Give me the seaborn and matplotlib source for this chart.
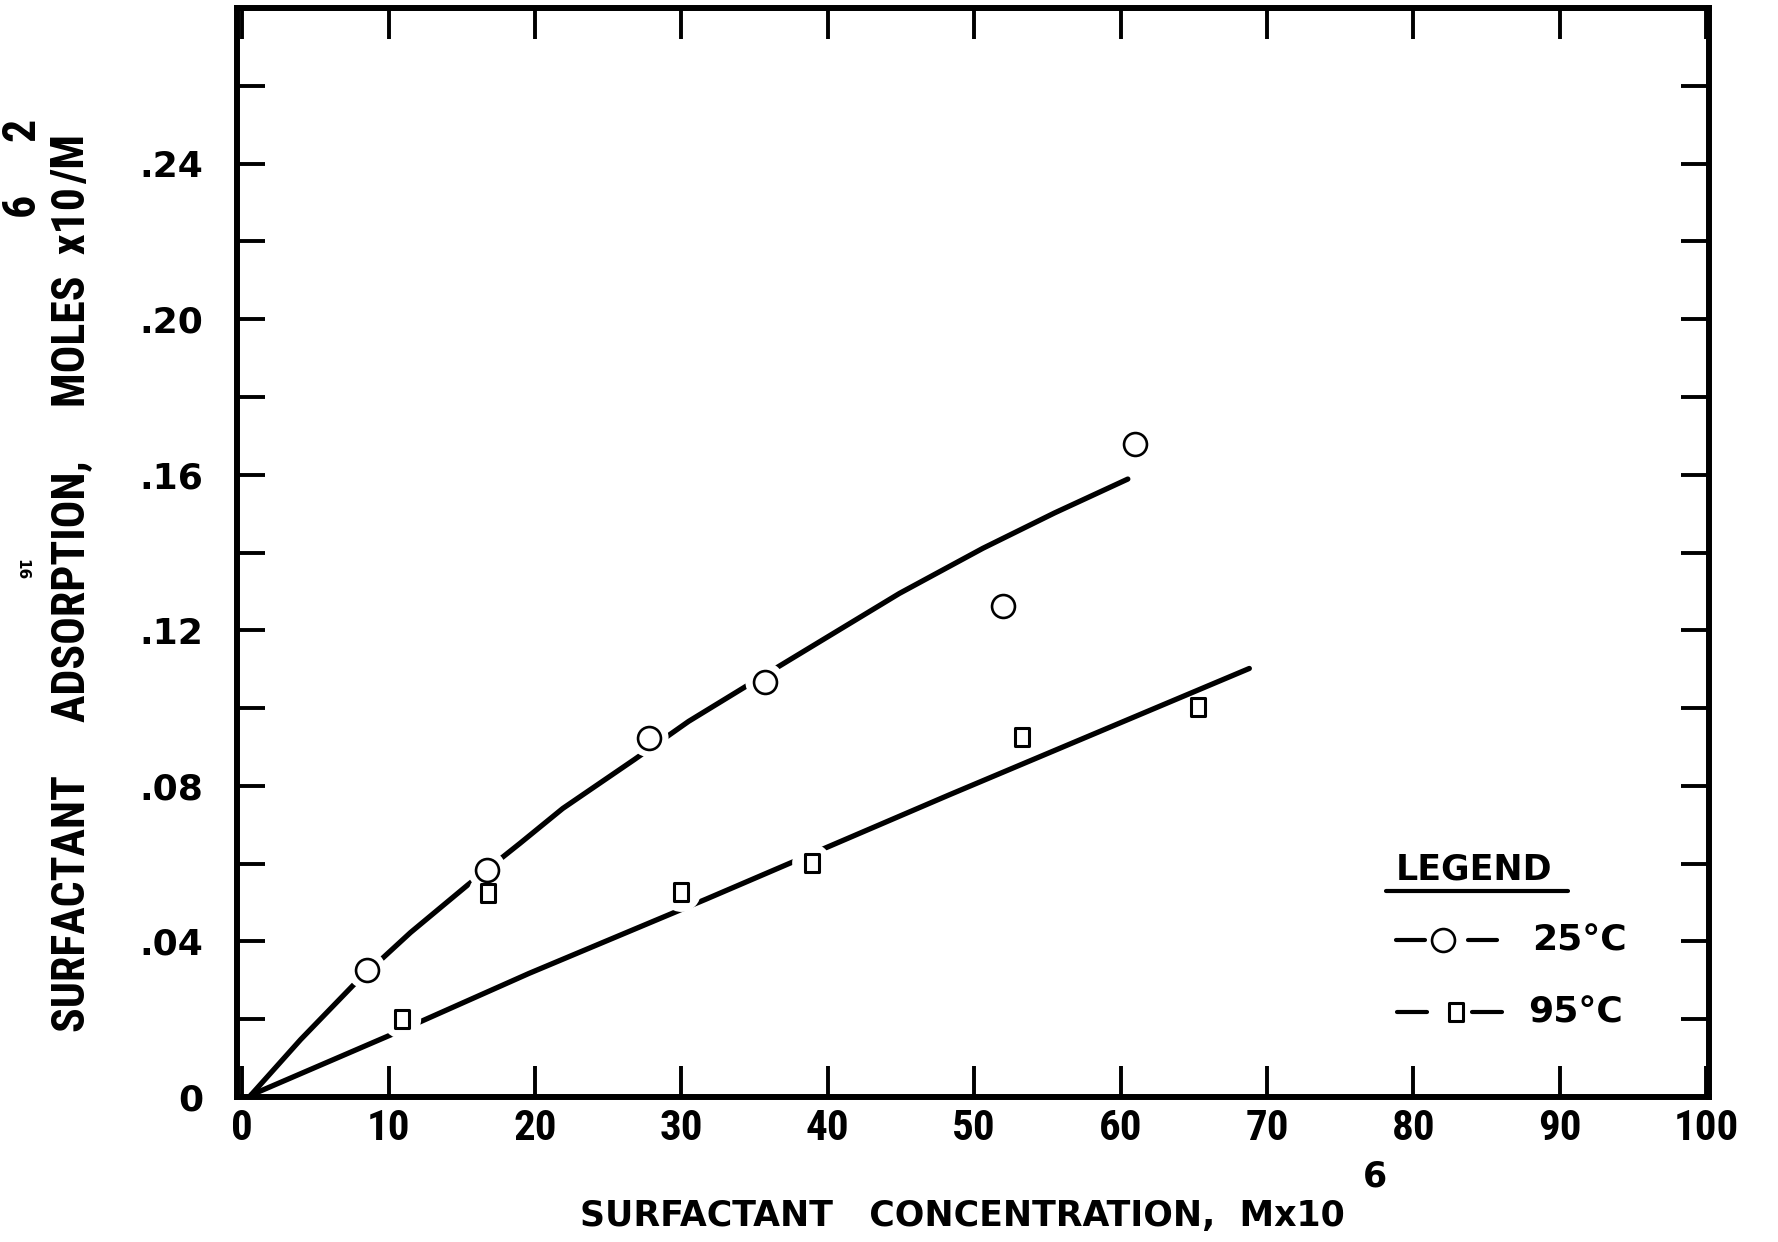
import numpy as np
import pandas as pd
import matplotlib
matplotlib.use("Agg")
import matplotlib.pyplot as plt
import seaborn as sns
from matplotlib.path import Path
from matplotlib.ticker import FixedLocator
from matplotlib import font_manager as fm

# ---------------- data ----------------
conc_25 = [8.5, 16.7, 27.8, 35.7, 52.0, 61.0]
ads_25 = [0.0327, 0.0585, 0.0924, 0.1068, 0.1263, 0.1680]
gap_25 = [True, True, True, True, True, True]

conc_95 = [10.9, 16.8, 30.0, 38.9, 53.3, 65.3]
ads_95 = [0.0200, 0.0525, 0.0526, 0.0602, 0.0925, 0.1004]
gap_95 = [True, True, True, True, True, False]

fit_conc_25 = [0.6, 4.0, 7.6, 11.5, 15.4, 19.0, 21.9, 26.8, 30.5, 34.5, 39.5, 44.9, 50.6, 55.5, 60.5]
fit_ads_25 = [0.0005, 0.0148, 0.0288, 0.0423, 0.0545, 0.0653, 0.0742, 0.0868, 0.0966, 0.1058,
              0.1172, 0.1295, 0.1411, 0.1502, 0.1589]

fit_conc_95 = [0.6, 10.1, 19.6, 31.7, 48.3, 68.8]
fit_ads_95 = [0.0005, 0.0159, 0.0318, 0.0509, 0.0777, 0.1102]

x_ticks = [0, 10, 20, 30, 40, 50, 60, 70, 80, 90, 100]
x_tick_labels = ["0", "10", "20", "30", "40", "50", "60", "70", "80", "90", "100"]
y_ticks = [0, 0.04, 0.08, 0.12, 0.16, 0.20, 0.24]
y_tick_labels = ["0", ".04", ".08", ".12", ".16", ".20", ".24"]
y_minor = [0.02, 0.06, 0.10, 0.14, 0.18, 0.22, 0.26]

series_labels = ["25°C", "95°C"]
legend_title = "LEGEND"
xlabel_main = "SURFACTANT   CONCENTRATION,  Mx10"
xlabel_sup = "6"
ylabel_sup1 = "6"
ylabel_tail = "/M"
ylabel_sup2 = "2"
page_number = "16"

# ---------------- fonts ----------------
sns.set_theme(style="white")
plt.rcParams['font.family'] = ['DejaVu Sans']
for k in ("text.color", "axes.labelcolor", "xtick.color", "ytick.color", "axes.edgecolor"):
    plt.rcParams[k] = "black"

names = {f.name for f in fm.fontManager.ttflist}
narrow_family, narrow_stretch, have_narrow = "DejaVu Sans", "normal", False
for n in ["Liberation Sans Narrow", "Roboto Condensed", "Open Sans Condensed",
          "Noto Sans Condensed", "Arial Narrow"]:
    if n in names:
        narrow_family, have_narrow = n, True
        break
if not have_narrow:
    for f in fm.fontManager.ttflist:
        if f.name == "DejaVu Sans" and "Condensed" in f.fname:
            narrow_stretch = "condensed"
            break
NARROW = [narrow_family, "DejaVu Sans"]

if have_narrow:
    ylabel_main = "SURFACTANT     ADSORPTION,     MOLES  x10"
    ylab_size, xtick_size = 33, 31
elif narrow_stretch == "condensed":
    ylabel_main = "SURFACTANT   ADSORPTION,   MOLES x10"
    ylab_size, xtick_size = 25, 29
else:
    ylabel_main = "SURFACTANT    ADSORPTION,    MOLES x10"
    ylab_size, xtick_size = 25, 28

# ---------------- figure ----------------
fig = plt.figure(figsize=(17.78, 12.42), dpi=100)
ax = fig.add_axes([0.1333, 0.1167, 0.8279, 0.8768])

df25 = pd.DataFrame({"conc": conc_25, "ads": ads_25, "gap": gap_25})
df95 = pd.DataFrame({"conc": conc_95, "ads": ads_95, "gap": gap_95})
fit25 = pd.DataFrame({"conc": fit_conc_25, "ads": fit_ads_25})
fit95 = pd.DataFrame({"conc": fit_conc_95, "ads": fit_ads_95})

rect = Path([(-0.39, -0.5), (0.39, -0.5), (0.39, 0.5), (-0.39, 0.5), (-0.39, -0.5)],
            [Path.MOVETO, Path.LINETO, Path.LINETO, Path.LINETO, Path.CLOSEPOLY])

LW = 3.8
for fit in (fit25, fit95):
    sns.lineplot(data=fit, x="conc", y="ads", ax=ax, color="black", linewidth=LW,
                 estimator=None, sort=False, solid_capstyle="round",
                 solid_joinstyle="round", zorder=2)

HALO = 28 ** 2
sns.scatterplot(data=df25[df25["gap"]], x="conc", y="ads", ax=ax, marker="o", s=HALO,
                color="white", edgecolor="none", linewidth=0, zorder=3, legend=False)
sns.scatterplot(data=df95[df95["gap"]], x="conc", y="ads", ax=ax, marker="o", s=HALO,
                color="white", edgecolor="none", linewidth=0, zorder=3, legend=False)

sns.scatterplot(data=df25, x="conc", y="ads", ax=ax, marker="o", s=16.5 ** 2,
                color="white", edgecolor="black", linewidth=1.9, zorder=4, legend=False)
sns.scatterplot(data=df95, x="conc", y="ads", ax=ax, marker=rect, s=13 ** 2,
                color="white", edgecolor="black", linewidth=2.2, zorder=4, legend=False)

ax.set_xlim(-0.35, 100.2)
ax.set_ylim(0, 0.28)
ax.set_xlabel("")
ax.set_ylabel("")
ax.grid(False)

for sp in ax.spines.values():
    sp.set_linewidth(4.3)
    sp.set_color("black")
    sp.set_visible(True)

ax.xaxis.set_major_locator(FixedLocator(x_ticks))
ax.set_xticklabels(x_tick_labels)
ax.yaxis.set_major_locator(FixedLocator(y_ticks))
ax.yaxis.set_minor_locator(FixedLocator(y_minor))
ax.set_yticklabels(y_tick_labels)

ax.tick_params(axis="x", which="major", direction="in", length=22, width=2.8,
               top=True, bottom=True, color="black", pad=8, labelsize=xtick_size,
               labelcolor="black")
ax.tick_params(axis="y", which="both", direction="in", length=20, width=2.8,
               left=True, right=True, color="black", pad=24, labelsize=26,
               labelcolor="black")
for lab in ax.get_xticklabels():
    lab.set_family(NARROW)
    lab.set_fontstretch(narrow_stretch)
    lab.set_fontweight("bold")
for lab in ax.get_yticklabels():
    lab.set_fontweight("bold")

# ---------------- axis titles ----------------
xl = fig.text(0.326, 0.021, xlabel_main, ha="left", va="center", fontsize=25,
              fontweight="bold", color="black")
ax.annotate(xlabel_sup, xy=(1.0, 1.0), xycoords=xl, xytext=(22, 4), textcoords="offset points",
            ha="center", va="bottom", fontsize=25, fontweight="bold", color="black",
            annotation_clip=False)

ykw = dict(rotation=90, fontsize=ylab_size, fontweight="bold", family=NARROW,
           fontstretch=narrow_stretch, color="black")
yl = fig.text(0.0398, 0.169, ylabel_main, ha="center", va="bottom", **ykw)
ax.annotate(ylabel_sup1, xy=(0.0, 1.0), xycoords=yl, xytext=(-4, -4), textcoords="offset points",
            ha="right", va="top", annotation_clip=False, **ykw)
yt = ax.annotate(ylabel_tail, xy=(0.5, 1.0), xycoords=yl, xytext=(0, 2), textcoords="offset points",
                 ha="center", va="bottom", annotation_clip=False, **ykw)
ax.annotate(ylabel_sup2, xy=(0.0, 1.0), xycoords=yt, xytext=(-4, 4), textcoords="offset points",
            ha="right", va="center", annotation_clip=False, **ykw)

fig.text(22 / 1778, 1 - 570 / 1242, page_number, rotation=-90, ha="center", va="center",
         fontsize=11, fontweight="bold", color="black")

# ---------------- hand-drawn legend ----------------
T = ax.transAxes
ax.text(0.8404, 0.2094, legend_title, transform=T, ha="center", va="center",
        fontsize=25, fontweight="bold", color="black")
ax.plot([0.7806, 0.9042], [0.1892, 0.1892], transform=T, color="black", lw=3.0,
        solid_capstyle="round", clip_on=False)

r1, r2 = 0.1442, 0.0781
ax.plot([0.7874, 0.8071], [r1, r1], transform=T, color="black", lw=3.0)
ax.plot([0.8363, 0.8560], [r1, r1], transform=T, color="black", lw=3.0)
ax.plot([0.8193], [r1], transform=T, marker="o", ms=16.5, mfc="white", mec="black",
        mew=1.9, linestyle="none")
ax.text(0.8798, r1, series_labels[0], transform=T, ha="left", va="center",
        fontsize=26, fontweight="bold", color="black")

ax.plot([0.7880, 0.8084], [r2, r2], transform=T, color="black", lw=3.0)
ax.plot([0.8390, 0.8594], [r2, r2], transform=T, color="black", lw=3.0)
ax.plot([0.8281], [r2], transform=T, marker=rect, ms=13, mfc="white", mec="black",
        mew=2.2, linestyle="none")
ax.text(0.8770, r2, series_labels[1], transform=T, ha="left", va="center",
        fontsize=26, fontweight="bold", color="black")

fig.savefig("out.png", dpi=100, facecolor="white")
